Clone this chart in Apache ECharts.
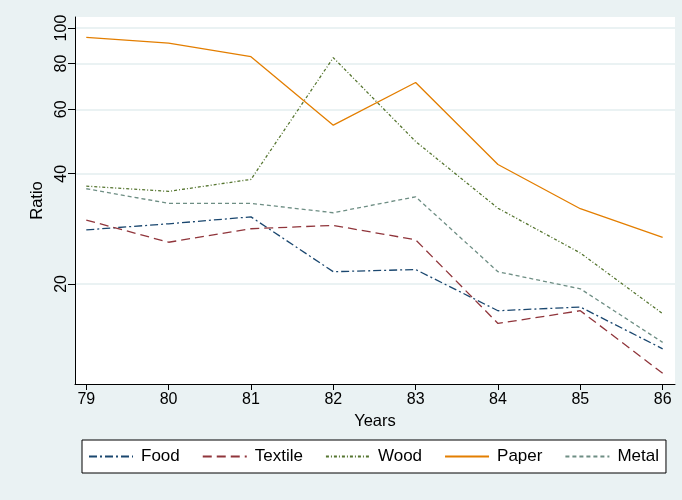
<!DOCTYPE html>
<html>
<head>
<meta charset="utf-8">
<style>
  html, body { margin: 0; padding: 0; background: #eaf2f3; }
  #chart { width: 682px; height: 500px; }
</style>
<script src="https://cdn.jsdelivr.net/npm/echarts@6/dist/echarts.min.js"></script>
</head>
<body>
<div id="chart"></div>
<script>
// Years on the horizontal axis
const years = [79, 80, 81, 82, 83, 84, 85, 86];

// Ratio per industry, one value per year
const food    = [28.1, 29.2, 30.5, 21.6, 21.9, 16.9, 17.3, 13.3];
const textile = [29.9, 26.0, 28.3, 28.9, 26.4, 15.6, 16.9, 11.4];
const wood    = [37.0, 35.8, 38.6, 83.0, 49.0, 32.2, 24.3, 16.6];
const paper   = [94.3, 91.0, 83.5, 54.3, 71.0, 42.4, 32.1, 26.8];
const metal   = [36.4, 33.2, 33.2, 31.3, 34.6, 21.6, 19.4, 13.85];

// Labelled positions on the log-scaled ratio axis
const ratioTicks = [20, 40, 60, 80, 100];

const FONT = 'Arial, "Liberation Sans", sans-serif';

function pairs(values) {
  return years.map((y, i) => [y, values[i]]);
}

const seriesDefs = [
  { name: 'Food',    values: food,    color: '#1a476f', dash: [8, 3, 2, 3] },
  { name: 'Textile', values: textile, color: '#90353b', dash: [9, 5] },
  { name: 'Wood',    values: wood,    color: '#55752f', dash: [3, 2, 1, 2] },
  { name: 'Paper',   values: paper,   color: '#e37e00', dash: 'solid' },
  { name: 'Metal',   values: metal,   color: '#6e8e84', dash: [4, 3] }
];

const chart = echarts.init(document.getElementById('chart'), null, { renderer: 'canvas' });

chart.setOption({
  animation: false,
  backgroundColor: '#eaf2f3',
  textStyle: { fontFamily: FONT },
  grid: {
    left: 75, top: 17, right: 7, bottom: 116,
    show: true, backgroundColor: '#ffffff', borderWidth: 0,
    containLabel: false, outerBoundsMode: 'none'
  },
  xAxis: {
    type: 'value',
    min: 78.863, max: 86.15,
    name: 'Years',
    nameLocation: 'middle',
    nameGap: 29,
    nameTextStyle: { fontSize: 16.5, color: '#000', fontFamily: FONT },
    axisLine: { show: true, onZero: false, lineStyle: { color: '#000', width: 1 } },
    axisTick: { show: true, length: 6, customValues: years, lineStyle: { color: '#000' } },
    axisLabel: { customValues: years, fontSize: 16, color: '#000', margin: 8, fontFamily: FONT,
                 formatter: v => String(Math.round(v)) },
    splitLine: { show: false }
  },
  yAxis: {
    type: 'log',
    logBase: 10,
    min: 10.66, max: 107.2,
    name: 'Ratio',
    nameLocation: 'middle',
    nameGap: 25,
    nameRotate: 90,
    nameTextStyle: { fontSize: 16.5, color: '#000', fontFamily: FONT },
    axisLine: { show: true, lineStyle: { color: '#000', width: 1 } },
    axisTick: { show: true, length: 7, customValues: ratioTicks, lineStyle: { color: '#000' } },
    axisLabel: { customValues: ratioTicks, rotate: 90, fontSize: 16, color: '#000', margin: 5,
                 fontFamily: FONT, formatter: v => String(Math.round(v)) },
    splitLine: { show: true, lineStyle: { color: '#eaf2f3', width: 2 } }
  },
  legend: {
    left: 82, top: 440,
    orient: 'horizontal',
    backgroundColor: '#ffffff',
    borderColor: '#000',
    borderWidth: 1,
    borderRadius: 0,
    padding: [8, 7, 8, 6],
    itemGap: 22,
    itemWidth: 44,
    itemHeight: 14,
    // line-only keys: hide the marker drawn on top of each key line
    itemStyle: { color: 'rgba(0,0,0,0)', borderColor: 'rgba(0,0,0,0)', borderWidth: 0 },
    textStyle: { fontSize: 17, color: '#000', fontFamily: FONT, padding: [0, 0, 0, 3] },
    data: seriesDefs.map(s => s.name)
  },
  series: seriesDefs.map(s => ({
    name: s.name,
    type: 'line',
    data: pairs(s.values),
    symbol: 'none',
    showSymbol: false,
    lineStyle: { color: s.color, width: 1.3, type: s.dash },
    itemStyle: { color: s.color }
  }))
});
</script>
</body>
</html>
